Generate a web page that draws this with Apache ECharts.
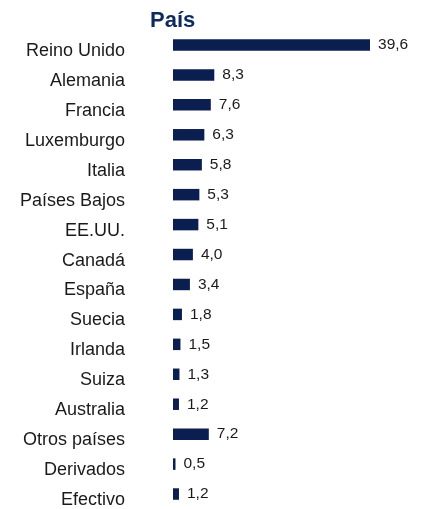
<!DOCTYPE html>
<html><head><meta charset="utf-8">
<script src="https://cdn.jsdelivr.net/npm/echarts@6/dist/echarts.min.js"></script>
<style>html,body{margin:0;padding:0;background:#fff}#c{width:421px;height:509px}</style>
</head><body><div id="c"></div>
<script>
const categories = ["Reino Unido","Alemania","Francia","Luxemburgo","Italia","Países Bajos","EE.UU.","Canadá","España","Suecia","Irlanda","Suiza","Australia","Otros países","Derivados","Efectivo"];
const values = [39.6,8.3,7.6,6.3,5.8,5.3,5.1,4.0,3.4,1.8,1.5,1.3,1.2,7.2,0.5,1.2];
const titleText = "País";
const chart = echarts.init(document.getElementById('c'));
chart.setOption({
  animation:false,
  title:{text:titleText,left:145,top:5,textStyle:{fontFamily:'Liberation Sans, Arial',fontSize:22,fontWeight:'bold',color:'#0d2a5c'}},
  grid:{left:173,top:30,width:199,height:480},
  xAxis:{type:'value',min:0,max:40,show:false},
  yAxis:{type:'category',data:categories,inverse:true,axisLine:{show:false},axisTick:{show:false},
    axisLabel:{margin:48,verticalAlign:'top',lineHeight:12,fontFamily:'Liberation Sans, Arial',fontSize:18,color:'#1a1a1a'}},
  series:[{type:'bar',data:values,barWidth:11.5,itemStyle:{color:'#0a1e50'},
    label:{show:true,position:'right',distance:8,fontFamily:'Liberation Sans, Arial',fontSize:15.5,color:'#1a1a1a',
      formatter:p=>p.value.toFixed(1).replace('.',',')}}]
});
</script></body></html>
